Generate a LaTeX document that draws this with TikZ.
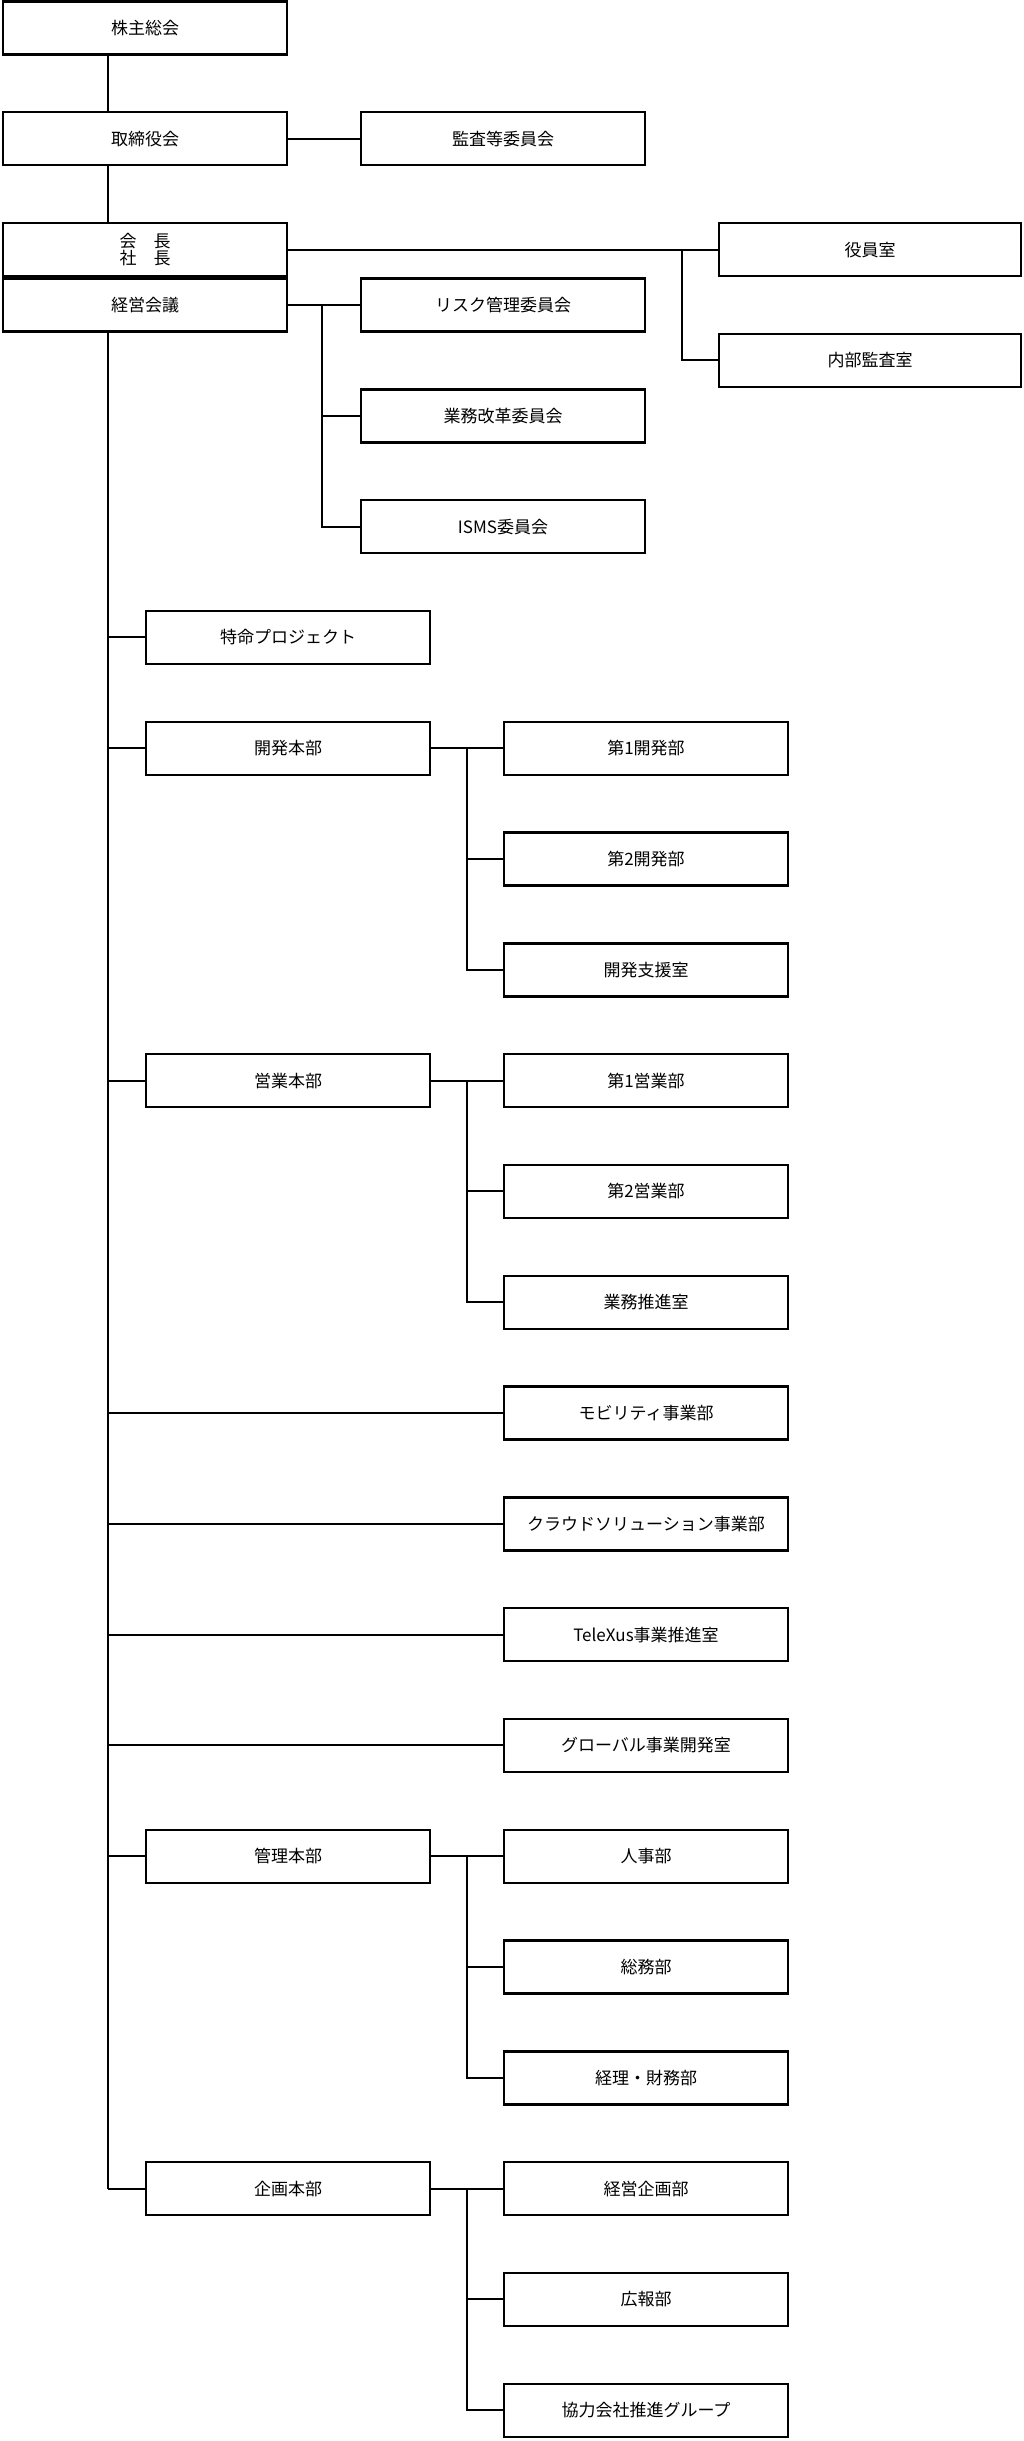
\documentclass[tikz,border=0pt]{standalone}
\usepackage{fontspec}
\setmainfont{Noto Sans CJK JP}
\begin{document}
\begin{tikzpicture}[x=1pt,y=-110.8pt,
  box/.style={draw,line width=2.4pt,minimum width=284pt,minimum height=53pt,inner sep=0pt,font=\fontsize{17}{21}\selectfont,align=center},
  wbox/.style={box,minimum width=302pt},
  conn/.style={line width=2pt}]
\useasboundingbox (0,-0.2527) rectangle (1024,21.778);
\def\xa{145}\def\xb{288}\def\xc{503}\def\xd{646}\def\xe{870}
\node[box] (s0) at (\xa,0) {株主総会};
\node[box] (s1) at (\xa,1) {取締役会};
\node[box] (kansa) at (\xc,1) {監査等委員会};
\node[box] (kaicho) at (\xa,2) {会\quad 長\\[-4pt]社\quad 長};
\node[box] (keiei) at (\xa,2.5) {経営会議};
\node[wbox] (yakuin) at (\xe,2) {役員室};
\node[wbox] (naibu) at (\xe,3) {内部監査室};
\node[box] (risk) at (\xc,2.5) {リスク管理委員会};
\node[box] (gyomu) at (\xc,3.5) {業務改革委員会};
\node[box] (isms) at (\xc,4.5) {ISMS委員会};
\node[box] (tokumei) at (\xb,5.5) {特命プロジェクト};
\node[box] (kaihatsu) at (\xb,6.5) {開発本部};
\node[box] (k1) at (\xd,6.5) {第1開発部};
\node[box] (k2) at (\xd,7.5) {第2開発部};
\node[box] (k3) at (\xd,8.5) {開発支援室};
\node[box] (eigyo) at (\xb,9.5) {営業本部};
\node[box] (e1) at (\xd,9.5) {第1営業部};
\node[box] (e2) at (\xd,10.5) {第2営業部};
\node[box] (e3) at (\xd,11.5) {業務推進室};
\node[box] (mob) at (\xd,12.5) {モビリティ事業部};
\node[box] (cloud) at (\xd,13.5) {クラウドソリューション事業部};
\node[box] (tele) at (\xd,14.5) {TeleXus事業推進室};
\node[box] (glob) at (\xd,15.5) {グローバル事業開発室};
\node[box] (kanri) at (\xb,16.5) {管理本部};
\node[box] (m1) at (\xd,16.5) {人事部};
\node[box] (m2) at (\xd,17.5) {総務部};
\node[box] (m3) at (\xd,18.5) {経理・財務部};
\node[box] (kikaku) at (\xb,19.5) {企画本部};
\node[box] (p1) at (\xd,19.5) {経営企画部};
\node[box] (p2) at (\xd,20.5) {広報部};
\node[box] (p3) at (\xd,21.5) {協力会社推進グループ};
\coordinate (t) at (108,0);
\coordinate (tend) at (108,19.5);
\coordinate (v1) at (322,0);
\coordinate (v2) at (682,0);
\coordinate (v3) at (467,0);
\draw[conn] (s0.south-|t) -- (s1.north-|t);
\draw[conn] (s1.south-|t) -- (kaicho.north-|t);
\draw[conn] (s1) -- (kansa);
\draw[conn] (keiei.south-|t) -- (tend);
\draw[conn] (kaicho.east) -- (yakuin.west);
\draw[conn] (kaicho.east-|v2) |- (naibu.west);
\draw[conn] (keiei.east) -- (risk.west);
\draw[conn] (risk.west-|v1) |- (isms.west);
\draw[conn] (gyomu.west-|v1) -- (gyomu.west);
\foreach \n in {tokumei,kaihatsu,eigyo,kanri,kikaku}
  \draw[conn] (\n.west-|t) -- (\n.west);
\foreach \n in {mob,cloud,tele,glob}
  \draw[conn] (\n.west-|t) -- (\n.west);
\foreach \h/\a/\b/\c in {kaihatsu/k1/k2/k3,eigyo/e1/e2/e3,kanri/m1/m2/m3,kikaku/p1/p2/p3}{
  \draw[conn] (\h.east) -- (\a.west);
  \draw[conn] (\a.west-|v3) |- (\c.west);
  \draw[conn] (\b.west-|v3) -- (\b.west);
}
\end{tikzpicture}
\end{document}
